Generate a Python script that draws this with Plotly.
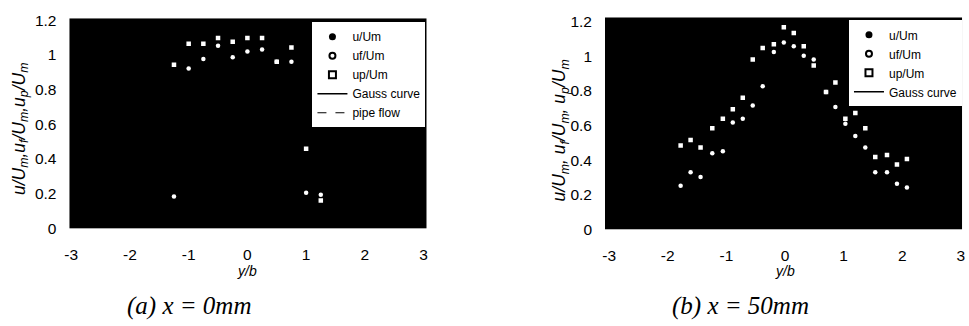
import plotly.graph_objects as go

# ---------------- data ----------------
# panel (a) x = 0 mm
a_x = [-1.25, -1.0, -0.75, -0.5, -0.25, 0.0, 0.25, 0.5, 0.75, 1.0, 1.25]
a_u = [0.183, 0.921, 0.976, 1.053, 0.987, 1.020, 1.031, 0.961, 0.961, 0.205, 0.194]
a_up = [0.943, 1.064, 1.064, 1.097, 1.075, 1.097, 1.097, 0.961, 1.042, 0.459, 0.161]

# panel (b) x = 50 mm
b_x = [-1.78, -1.61, -1.44, -1.24, -1.06, -0.89, -0.72, -0.55, -0.38, -0.19, -0.02,
       0.15, 0.32, 0.49, 0.70, 0.86, 1.03, 1.20, 1.37, 1.54, 1.74, 1.91, 2.08]
b_u = [0.252, 0.330, 0.302, 0.440, 0.451, 0.617, 0.639, 0.716, 0.827, 1.026, 1.081,
       1.059, 1.004, 0.982, 0.794, 0.707, 0.610, 0.540, 0.473, 0.330, 0.330, 0.263, 0.241]
b_up = [0.484, 0.517, 0.473, 0.584, 0.639, 0.694, 0.761, 0.982, 1.048, 1.070, 1.169,
        1.136, 1.059, 0.948, 0.794, 0.849, 0.639, 0.672, 0.584, 0.418, 0.429, 0.374, 0.407]

x_ticks = [-3, -2, -1, 0, 1, 2, 3]
x_ticktext = ["-3", "-2", "-1", "0", "1", "2", "3"]
y_ticks = [0, 0.2, 0.4, 0.6, 0.8, 1.0, 1.2]
y_ticktext = ["0", "0.2", "0.4", "0.6", "0.8", "1", "1.2"]

legend_a = ["u/Um", "uf/Um", "up/Um", "Gauss curve", "pipe flow"]
legend_b = ["u/Um", "uf/Um", "up/Um", "Gauss curve"]

captions = ["(a) x = 0mm", "(b) x = 50mm"]

# ---------------- layout geometry ----------------
W, H = 969, 326
SANS = "Arial, Liberation Sans, sans-serif"
SERIF = "Times New Roman, Liberation Serif, serif"


def px_x(p):
    return p / W


def px_y(p):
    return 1 - p / H


fig = go.Figure()

panels = [
    dict(xa="x", ya="y", xs=a_x, u=a_u, up=a_up, legend="legend", names=legend_a),
    dict(xa="x2", ya="y2", xs=b_x, u=b_u, up=b_up, legend="legend2", names=legend_b),
]

for p in panels:
    fig.add_trace(go.Scatter(x=p["xs"], y=p["u"], mode="markers", xaxis=p["xa"], yaxis=p["ya"],
                             marker=dict(symbol="circle", size=4.5, color="white"),
                             showlegend=False, hoverinfo="x+y"))
    fig.add_trace(go.Scatter(x=p["xs"], y=p["up"], mode="markers", xaxis=p["xa"], yaxis=p["ya"],
                             marker=dict(symbol="square", size=4.5, color="white"),
                             showlegend=False, hoverinfo="x+y"))
    styles = [
        dict(mode="markers", marker=dict(symbol="circle", size=7, color="black")),
        dict(mode="markers", marker=dict(symbol="circle-open", size=6, color="black",
                                         line=dict(width=2, color="black"))),
        dict(mode="markers", marker=dict(symbol="square-open", size=7, color="black",
                                         line=dict(width=2, color="black"))),
        dict(mode="lines", line=dict(color="black", width=1.5)),
        dict(mode="lines", line=dict(color="black", width=1, dash="dash")),
    ]
    for name, st in zip(p["names"], styles):
        fig.add_trace(go.Scatter(x=[None], y=[None], name=name, xaxis=p["xa"], yaxis=p["ya"],
                                 legend=p["legend"], showlegend=True, **st))

axis_common = dict(showgrid=False, zeroline=False, showline=False, ticks="",
                   tickfont=dict(family=SANS, size=15.5, color="black"))

legend_common = dict(xanchor="left", yanchor="top", bgcolor="white", borderwidth=0,
                     tracegroupgap=0, itemwidth=30,
                     font=dict(family=SANS, size=12, color="black"))

fig.update_layout(
    width=W, height=H,
    margin=dict(l=0, r=0, t=0, b=0),
    paper_bgcolor="white",
    plot_bgcolor="black",
    xaxis=dict(domain=[px_x(65), px_x(425)], range=[-3.03, 3.05], anchor="y",
               tickvals=x_ticks, ticktext=x_ticktext, ticklabelstandoff=15, **axis_common),
    yaxis=dict(domain=[px_y(232), px_y(12)], range=[0, 1.21], anchor="x",
               tickvals=y_ticks, ticktext=y_ticktext, ticklabelstandoff=12, **axis_common),
    xaxis2=dict(domain=[px_x(605), px_x(965)], range=[-3.07, 3.02], anchor="y2",
                tickvals=x_ticks, ticktext=x_ticktext, ticklabelstandoff=15, **axis_common),
    yaxis2=dict(domain=[px_y(233), px_y(11)], range=[0, 1.225], anchor="x2",
                tickvals=y_ticks, ticktext=y_ticktext, ticklabelstandoff=12, **axis_common),
    legend=dict(x=px_x(310), y=px_y(16), **legend_common),
    legend2=dict(x=px_x(851), y=px_y(14), **legend_common),
    showlegend=True,
)

ann = []
# y-axis titles
ann.append(dict(text="<i>u/U<sub>m</sub>,u<sub>f</sub>/U<sub>m</sub>,u<sub>p</sub>/U<sub>m</sub></i>",
                x=px_x(15), y=px_y(128), textangle=-90))
ann.append(dict(text="<i>u/U<sub>m</sub>, u<sub>f</sub>/U<sub>m</sub>, u<sub>p</sub>/U<sub>m</sub></i>",
                x=px_x(560), y=px_y(129), textangle=-90))
for a in ann:
    a.update(xref="paper", yref="paper", showarrow=False, xanchor="center", yanchor="middle",
             font=dict(family=SANS, size=17.5, color="black"))
# x-axis titles
for cx in (244, 786):
    ann.append(dict(text="<i>y/b</i>", x=px_x(cx), y=px_y(277), xref="paper", yref="paper",
                    showarrow=False, xanchor="center", yanchor="middle",
                    font=dict(family=SANS, size=14, color="black")))
# captions
for cap, cx in zip(captions, (186, 742)):
    ann.append(dict(text="<i>" + cap + "</i>", x=px_x(cx), y=px_y(313), xref="paper", yref="paper",
                    showarrow=False, xanchor="center", yanchor="middle",
                    font=dict(family=SERIF, size=25, color="black")))
fig.update_layout(annotations=ann)

fig.write_html("out.html")
